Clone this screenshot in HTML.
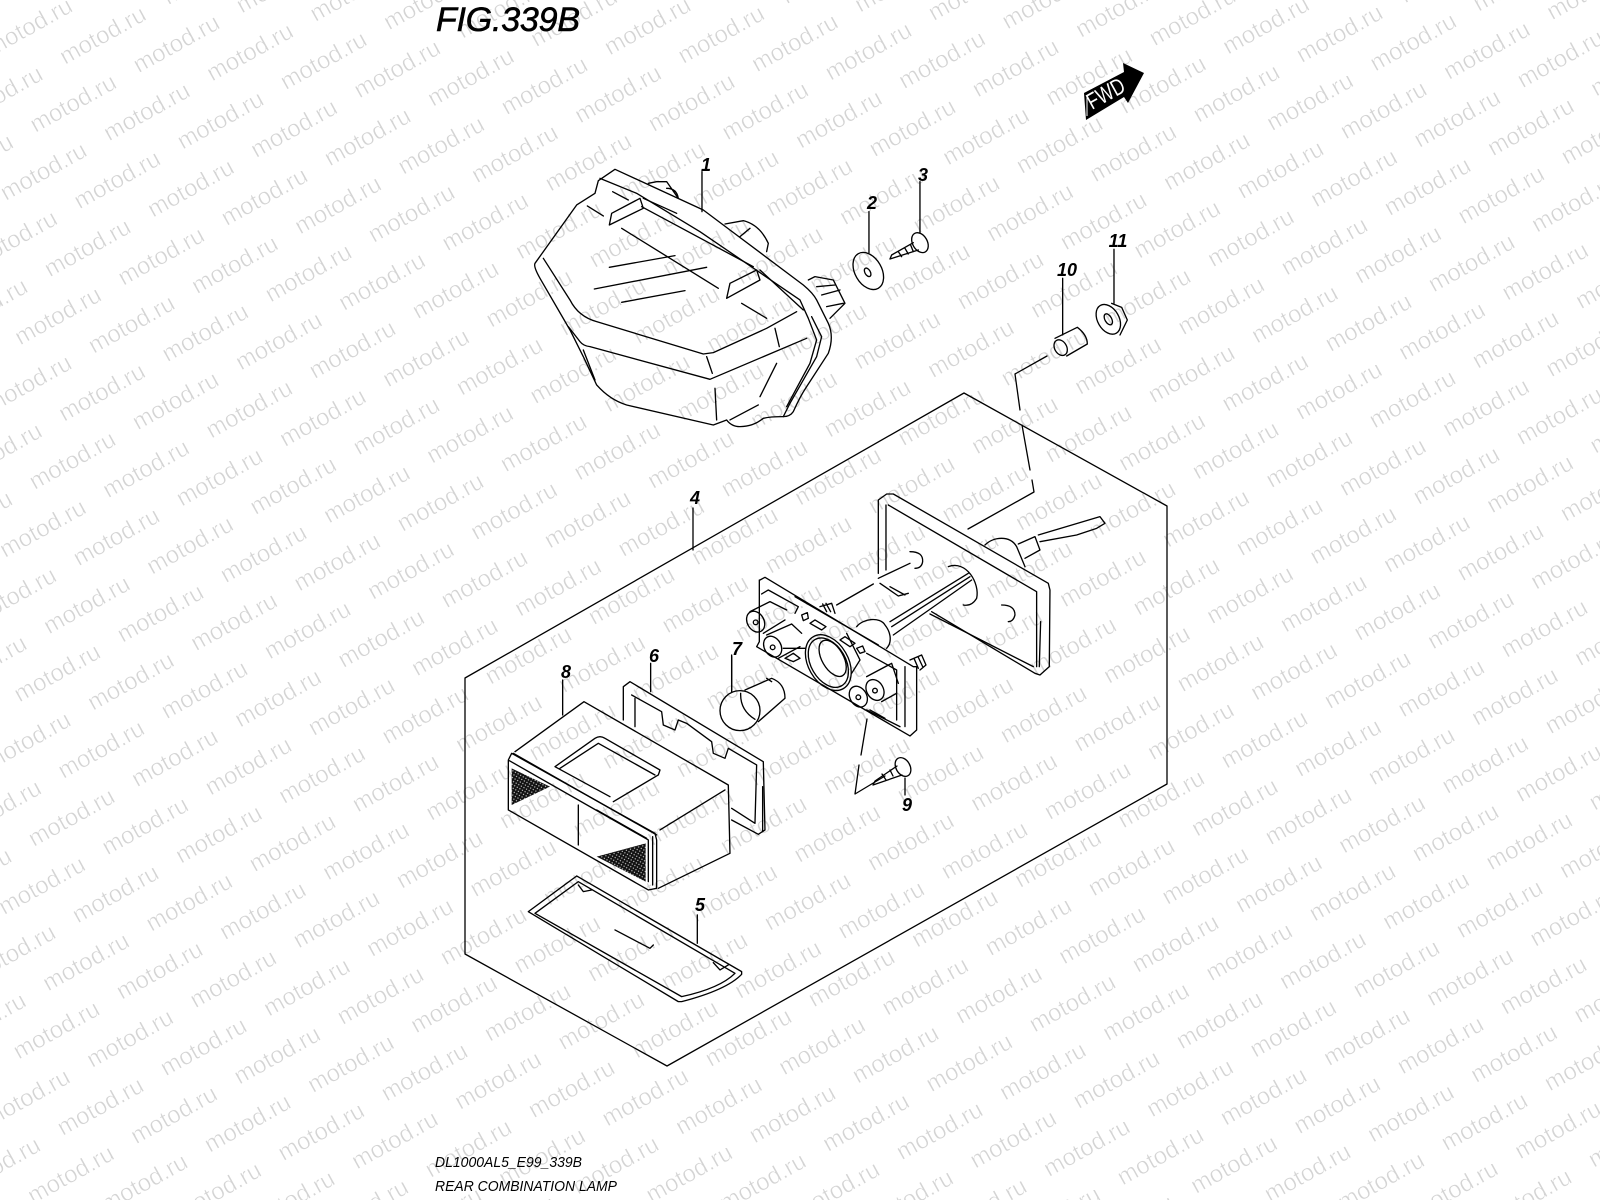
<!DOCTYPE html>
<html><head><meta charset="utf-8"><title>FIG.339B</title>
<style>html,body{margin:0;padding:0;background:#fff;width:1600px;height:1200px;overflow:hidden}svg{display:block}
.w{font:24px "Liberation Sans",sans-serif;fill:#d4d4d4;stroke:#fff;stroke-width:.55px}
.l{font:italic bold 18px "Liberation Sans",sans-serif;fill:#000;text-anchor:middle}
.t{font-family:"Liberation Sans",sans-serif;font-style:italic;fill:#000}
.d{fill:none;stroke:#000;stroke-linecap:round;stroke-linejoin:round}
</style></head><body>
<svg width="1600" height="1200" viewBox="0 0 1600 1200" xmlns="http://www.w3.org/2000/svg">
<defs>
<text id="w" class="w" transform="rotate(-29)">motod.ru</text>
<g id="r1"><use href="#w"/><use href="#w" transform="translate(73.6,8.4)"/></g>
<g id="r2"><use href="#r1"/><use href="#r1" transform="translate(147.2,16.8)"/></g>
<g id="r3"><use href="#r2"/><use href="#r2" transform="translate(294.4,33.6)"/></g>
<g id="r4"><use href="#r3"/><use href="#r3" transform="translate(588.8,67.2)"/></g>
<g id="r5"><use href="#r4"/><use href="#r4" transform="translate(1177.6,134.4)"/></g>
<g id="c1"><use href="#r5"/><use href="#r5" transform="translate(-29.6,68.05)"/></g>
<g id="c2"><use href="#c1"/><use href="#c1" transform="translate(-59.2,136.1)"/></g>
<g id="c3"><use href="#c2"/><use href="#c2" transform="translate(-118.4,272.2)"/></g>
<g id="c4"><use href="#c3"/><use href="#c3" transform="translate(-236.8,544.4)"/></g>
<pattern id="mesh" width="9" height="9" patternUnits="userSpaceOnUse" patternTransform="rotate(30)"><rect width="9" height="9" fill="#111"/><rect x="1" y="1" width="3.5" height="3.5" fill="#ccc"/></pattern>
</defs>
<rect width="1600" height="1200" fill="#fff"/>
<g transform="translate(36.3,-224)"><use href="#c4"/><use href="#c2" transform="translate(-473.6,1088.8)"/><use href="#c1" transform="translate(-592,1361)"/></g>

<text class="t" x="436" y="31" font-size="34" textLength="144" lengthAdjust="spacing" stroke="#000" stroke-width=".6">FIG.339B</text>
<text class="t" x="435" y="1167" font-size="15" textLength="147" lengthAdjust="spacingAndGlyphs">DL1000AL5_E99_339B</text>
<text class="t" x="435" y="1191" font-size="15" textLength="182" lengthAdjust="spacingAndGlyphs">REAR COMBINATION LAMP</text>

<!-- FWD -->
<polygon points="1084,93 1124,72 1123,63 1144,73 1128,103 1124,97 1086,120" fill="#000"/>
<path d="M1087,95V116" stroke="#fff" stroke-width="1" fill="none"/>
<text transform="translate(1092,110) rotate(-29)" font-family="Liberation Sans,sans-serif" font-size="23" fill="#fff" textLength="40" lengthAdjust="spacingAndGlyphs">FWD</text>

<!-- frame -->
<g class="d" stroke-width="1.3">
<polygon points="964,393 1167,506 1167,784 667,1066 465,954 465,678"/>
<path d="M693,508V550M1047,356L1015,374L1020,410M1022,425L1030,470M1032,480L1034,492L968,529M867,719L861,755M859,765L855,794L885,776"/>
</g>

<!-- taillight -->
<g class="d" stroke-width="4" transform="translate(500,130) scale(.3333)">
<path d="M285,190L295,152L345,118L610,240L690,300L910,465Q940,490 950,510L985,580Q1003,620 985,670L920,770Q900,800 880,845Q870,860 850,860Q810,860 790,865Q760,890 720,890Q695,890 680,870L640,885L380,825Q330,810 290,765L250,680L210,600L120,445Q100,410 105,400L230,225L285,190"/>
<path d="M130,385L210,510Q235,560 290,575L610,672L640,668L800,595L890,545"/>
<path d="M205,590L240,635Q250,648 270,650L630,748L920,625"/>
<path d="M250,660L285,750M620,680L637,730M825,595L838,650M645,775L650,870M830,700L780,800M690,870L775,825"/>
<path d="M328,412L525,377M283,477L620,412M365,517L555,482M262,228L310,258M365,295L655,475M725,520L800,565M338,185L385,210"/>
<path d="M328,285L335,250L420,205L430,235ZM680,505L690,460L770,420L780,450Z"/>
<path d="M430,205L530,250M425,230L760,410M780,420L910,540"/>
<path d="M300,145L410,190L600,305L900,510L925,565L950,630L930,700L860,830"/>
<path d="M935,560L965,620L950,680L870,820L850,860"/>
<path d="M445,160L470,155L500,155L535,205M500,175Q530,175 535,205"/>
<path d="M675,282L730,272Q780,285 805,340L800,365M720,320L750,295"/>
<path d="M925,450L945,440L1000,450L1035,520L990,565M950,470L1005,465M965,495L1020,480M980,530L1030,520"/>
<path d="M606,125V245M1107,245V368M1260,155V308"/>
<ellipse cx="1105" cy="423" rx="40" ry="60" transform="rotate(-30 1105 423)"/>
<ellipse cx="1103" cy="427" rx="8" ry="14" transform="rotate(-30 1103 427)"/>
<ellipse cx="1260" cy="338" rx="22" ry="32" transform="rotate(-30 1260 338)"/>
<path d="M1240,338L1175,375L1170,387L1255,360M1195,365L1205,380M1215,355L1225,372M1232,345L1240,365"/>
</g>

<!-- sleeve + nut -->
<g class="d" stroke-width="4" transform="translate(1000,220) scale(.3333)">
<path d="M188,175V345M342,88V250"/>
<ellipse cx="182" cy="383" rx="18" ry="25" transform="rotate(-30 182 383)"/>
<path d="M165,355L232,322Q262,345 262,372L200,408"/>
<ellipse cx="325" cy="298" rx="32" ry="48" transform="rotate(-30 325 298)"/>
<ellipse cx="325" cy="298" rx="10" ry="18" transform="rotate(-30 325 298)"/>
<path d="M335,250L365,262L382,300L360,345"/>
</g>

<!-- socket assembly -->
<g class="d" stroke-width="4" transform="translate(700,470) scale(.3333)">
<path d="M535,310V90L560,72H580L1045,340L1050,360L1048,590L1020,615L1005,610L695,425"/>
<path d="M558,105V300M565,105L1010,365V590M690,432L1000,590M1022,455L1018,590"/>
<path d="M630,245Q670,245 668,275Q665,295 645,295M745,290C800,270 840,340 830,385Q815,410 790,405M905,405Q945,405 945,435Q940,455 925,455"/>
<path d="M855,225C880,200 930,195 950,230L975,290M955,222L1005,200L1020,240L975,265M1015,195L1200,140L1215,160L1190,175L1130,195L1020,215"/>
<path d="M570,455L805,310M575,470L810,320M580,495L815,330"/>
<path d="M470,470C490,445 540,440 555,465C575,490 575,520 560,535"/>
<path d="M410,405L520,342M535,325L630,280M540,340L595,378L625,370M570,350L615,375"/>
<path d="M180,330L195,322L640,590L650,590V780L630,798L170,530L178,515V330"/>
<path d="M185,372L205,360L295,410L285,430M285,380L535,525M500,550L590,600V750M615,590V770M500,720L600,770"/>
<ellipse cx="167" cy="455" rx="25" ry="33" transform="rotate(-30 167 455)"/>
<circle cx="167" cy="457" r="7"/>
<path d="M150,425L210,395L260,420M190,490L255,450"/>
<ellipse cx="218" cy="530" rx="25" ry="33" transform="rotate(-30 218 530)"/>
<circle cx="218" cy="532" r="7"/>
<path d="M200,495L275,462L305,490M235,565L300,530M250,535H315"/>
<ellipse cx="475" cy="680" rx="25" ry="33" transform="rotate(-30 475 680)"/>
<circle cx="475" cy="682" r="7"/>
<ellipse cx="525" cy="660" rx="25" ry="33" transform="rotate(-30 525 660)"/>
<circle cx="525" cy="662" r="7"/>
<path d="M500,620L575,580L595,640M545,695L590,670"/>
<ellipse cx="385" cy="578" rx="60" ry="90" transform="rotate(-30 385 578)"/>
<ellipse cx="385" cy="578" rx="52" ry="80" transform="rotate(-30 385 578)"/>
<ellipse cx="398" cy="565" rx="32" ry="60" transform="rotate(-30 398 565)"/>
<path d="M440,490L480,570L455,610"/>
<path d="M360,410L395,400L405,430M368,402L380,425M378,400L392,425M630,570L665,555L678,585L660,600M642,565L655,595M654,560L668,590"/>
<path d="M305,435L322,428L325,445L310,452ZM330,460L345,450L378,470L365,480ZM420,510L435,500L465,520L450,530ZM470,535L488,528L495,545L480,550ZM255,565L280,550L300,565L280,575Z"/>
<path d="M510,720L555,745M95,560V660"/>
<circle cx="120" cy="722" r="60"/>
<path d="M122,670Q120,720 165,748M135,660L215,625Q255,640 255,685L175,755M200,625L215,635"/>
</g>

<!-- screw 9 -->
<g class="d" stroke-width="1.3">
<ellipse cx="903" cy="767" rx="7" ry="10" transform="rotate(-30 903 767)"/>
<path d="M897,766L875,781L873,785L902,775M882,774L886,780M890,770L893,776M905,778V795"/>
</g>

<!-- housing, gasket, lens -->
<g class="d" stroke-width="4" transform="translate(480,640) scale(.3333)">
<path d="M105,335L312,185L745,435L750,640L535,745"/>
<path d="M85,360L95,340L525,580L530,600V745L505,750L85,510Z"/>
<path d="M100,340L530,585M88,362L505,600V725M518,590V735"/>
<polygon points="95,385 210,440 95,495" fill="url(#mesh)" stroke="none"/>
<polygon points="497,610 350,650 497,725" fill="url(#mesh)" stroke="none"/>
<path d="M225,380L345,295Q360,285 375,295L540,390L535,405L400,485M240,385L355,310L525,405M225,380L390,470"/>
<path d="M540,570L735,450M295,495V615M350,510L500,595"/>
<path d="M430,240V140L450,125L850,365L855,570L835,583L755,540M465,175V260"/>
<path d="M455,165L545,215L550,255L585,270L595,240L620,250L695,305L700,340L735,355L745,325L830,375L825,550L755,505M848,440V575"/>
<path d="M145,815L290,708L785,995V1003Q740,1050 605,1085H595Z"/>
<path d="M165,820L295,725L765,1000Q720,1045 605,1070Z"/>
<path d="M295,735L310,755L335,750M700,968L720,990L745,975M405,870L510,925L520,915"/>
<path d="M652,825V910M248,120V225M512,70V155M755,45V155"/>
</g>

<g>
<text class="l" x="706" y="171">1</text>
<text class="l" x="872" y="209">2</text>
<text class="l" x="923" y="181">3</text>
<text class="l" x="695" y="504">4</text>
<text class="l" x="700" y="911">5</text>
<text class="l" x="654" y="662">6</text>
<text class="l" x="737" y="655">7</text>
<text class="l" x="566" y="678">8</text>
<text class="l" x="907" y="811">9</text>
<text class="l" x="1067" y="276">10</text>
<text class="l" x="1118" y="247">11</text>
</g>
</svg>
</body></html>
